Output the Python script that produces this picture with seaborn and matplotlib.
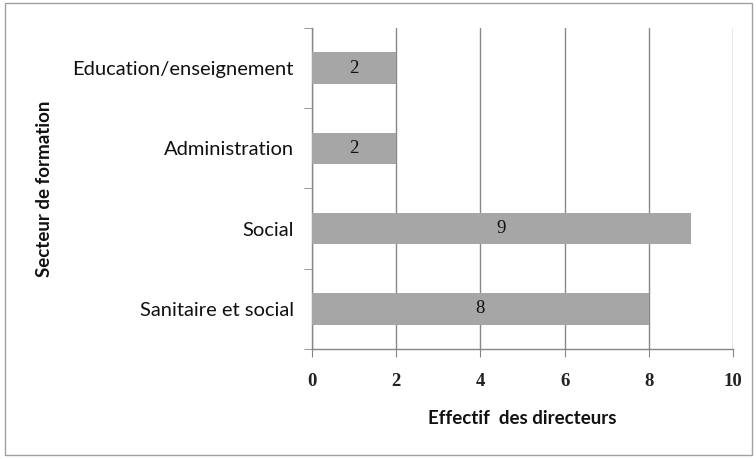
import pandas as pd
import matplotlib.pyplot as plt
import seaborn as sns
from matplotlib.patches import Rectangle

sns.set_style("white")
plt.rcParams['font.family'] = ['Lato', 'DejaVu Sans']

secteurs = ['Education/enseignement', 'Administration', 'Social', 'Sanitaire et social']
effectifs = [2, 2, 9, 8]
x_ticks = [0, 2, 4, 6, 8, 10]

df = pd.DataFrame({'Secteur': secteurs, 'Effectif': effectifs})

fig = plt.figure(figsize=(7.56, 4.59), dpi=100)
ax = fig.add_axes([0.4127, 0.2397, 0.5569, 0.6993])

sns.barplot(data=df, y='Secteur', x='Effectif', orient='h', color='#a6a6a6',
            saturation=1, width=0.39, linewidth=0, ax=ax, zorder=3)

# value labels in the middle of each bar
for i, v in enumerate(effectifs):
    ax.text(v / 2, i, str(v), ha='center', va='center', fontsize=13.5,
            family='Liberation Serif', color='#111111', zorder=4)

ax.set_xlim(0, 10)
ax.set_ylim(len(secteurs) - 0.5, -0.5)
ax.set_xticks(x_ticks)
ax.set_xticklabels([str(t) for t in x_ticks], family='Liberation Serif', fontsize=13.5,
                   fontweight='bold', color='#222222')
ax.set_yticks(range(len(secteurs)))
ax.set_yticklabels(secteurs, fontsize=14.5, color='#111111')
ax.set_yticks([i - 0.5 for i in range(len(secteurs) + 1)], minor=True)
ax.tick_params(axis='y', which='major', length=0, pad=13)
ax.tick_params(axis='y', which='minor', length=6, color='#868686', direction='out', left=True)
ax.tick_params(axis='x', length=6, color='#868686', direction='out', bottom=True, pad=11)

ax.grid(axis='x', color='#888888', linewidth=1, zorder=0)
for s in ['top', 'right']:
    ax.spines[s].set_visible(False)
for s in ['left', 'bottom']:
    ax.spines[s].set_color('#868686')
    ax.spines[s].set_linewidth(1)

ax.set_xlabel('Effectif  des directeurs', fontsize=13.5, fontweight='bold', labelpad=15,
              color='#111111')
ax.set_ylabel('Secteur de formation', fontsize=13.5, fontweight='bold', color='#111111')
ax.yaxis.set_label_coords(-0.615, 0.5)

# border round the whole chart
fig.patches.append(Rectangle((0.007, 0.008), 0.988, 0.985, transform=fig.transFigure,
                             fill=False, edgecolor='#a0a0a0', linewidth=1))

fig.savefig('out.png', dpi=100)
